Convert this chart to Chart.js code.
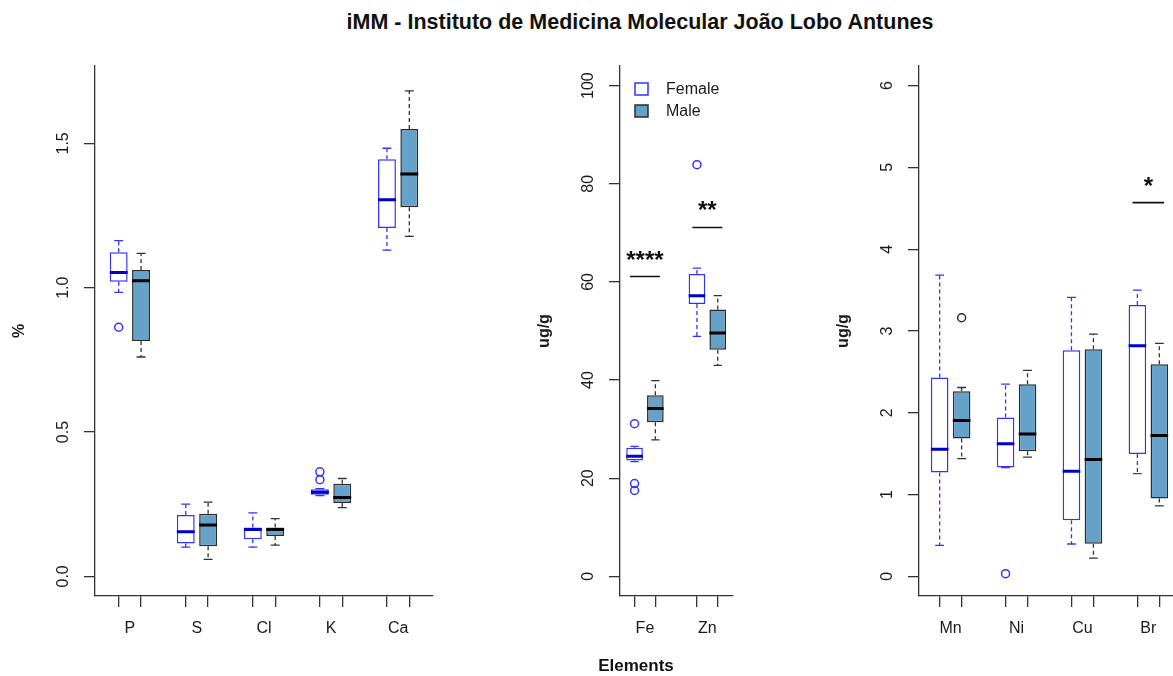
<!DOCTYPE html>
<html lang="pt">
<head>
<meta charset="utf-8">
<title>Elements by sex - iMM</title>
<script src="https://cdn.jsdelivr.net/npm/chart.js@4.4.1/dist/chart.umd.min.js"></script>
<style>
  html, body { margin: 0; padding: 0; background: #fff; overflow: hidden; }
  #page { position: relative; width: 1173px; height: 676px; overflow: hidden; }
  #page canvas { position: absolute; top: 0; }
  .label { position: absolute; font-family: "Liberation Sans", Arial, sans-serif; font-weight: bold; color: #111; white-space: nowrap; text-align: center; }
  #title { left: 340px; width: 600px; top: 9px; font-size: 21.5px; line-height: 26px; }
  #xtitle { left: 536px; width: 200px; top: 655px; font-size: 17px; line-height: 22px; }
</style>
</head>
<body>
<div id="page">
  <div id="title" class="label">iMM - Instituto de Medicina Molecular João Lobo Antunes</div>
  <canvas id="major" width="445" height="676" style="left:0px"></canvas>
  <canvas id="fezn" width="219" height="676" style="left:525px"></canvas>
  <canvas id="trace" width="368" height="676" style="left:824px"></canvas>
  <div id="xtitle" class="label">Elements</div>
</div>
<script>
// ---- data ----
// every box is [lower whisker, Q1, median, Q3, upper whisker]

// major elements, %
const majorElements = ['P', 'S', 'Cl', 'K', 'Ca'];
const majorFemale = [
  [0.984, 1.021, 1.053, 1.123, 1.163],
  [0.101, 0.114, 0.155, 0.213, 0.250],
  [0.101, 0.129, 0.162, 0.169, 0.220],
  [0.280, 0.283, 0.291, 0.302, 0.304],
  [1.130, 1.207, 1.305, 1.445, 1.483]
];
const majorMale = [
  [0.760, 0.815, 1.024, 1.061, 1.119],
  [0.059, 0.104, 0.178, 0.217, 0.257],
  [0.108, 0.140, 0.162, 0.169, 0.200],
  [0.238, 0.254, 0.273, 0.321, 0.339],
  [1.178, 1.279, 1.394, 1.550, 1.682]
];
const majorFemaleOut = [[0.863], [], [], [0.335, 0.362], []];
const majorMaleOut = [[], [], [], [], []];
const majorTicks = [0, 0.5, 1.0, 1.5];

// Fe and Zn, ug/g
const fezElements = ['Fe', 'Zn'];
const fezFemale = [
  [23.4, 23.6, 24.5, 26.2, 26.5],
  [48.9, 55.5, 57.2, 61.6, 62.8]
];
const fezMale = [
  [27.8, 31.4, 34.2, 36.9, 39.9],
  [43.0, 46.2, 49.6, 54.4, 57.2]
];
const fezFemaleOut = [[31.1, 18.9, 17.5], [83.9]];
const fezMaleOut = [[], []];
const fezTicks = [0, 20, 40, 60, 80, 100];
const fezSigAt = ['Fe', 'Zn'];
const fezSigLevel = [61.1, 71.1];
const fezSigText = ['****', '**'];

// trace elements, ug/g
const traceElements = ['Mn', 'Ni', 'Cu', 'Br'];
const traceFemale = [
  [0.379, 1.269, 1.554, 2.432, 3.684],
  [1.330, 1.330, 1.620, 1.942, 2.350],
  [0.396, 0.685, 1.285, 2.766, 3.411],
  [1.257, 1.497, 2.819, 3.317, 3.500]
];
const traceMale = [
  [1.440, 1.685, 1.905, 2.264, 2.309],
  [1.457, 1.530, 1.742, 2.350, 2.518],
  [0.224, 0.400, 1.428, 2.778, 2.962],
  [0.861, 0.951, 1.722, 2.595, 2.848]
];
const traceFemaleOut = [[], [0.033], [], []];
const traceMaleOut = [[3.162], [], [], []];
const traceTicks = [0, 1, 2, 3, 4, 5, 6];
const traceSigAt = ['Br'];
const traceSigLevel = [4.57];
const traceSigText = ['*'];

// ---- styling ----
const FONT = '"Liberation Sans", Arial, Helvetica, sans-serif';
const INK = '#1a1a1a';
const AXIS = '#333333';
const femaleStyle = { edge: '#3333ff', fill: '#ffffff', median: '#0000cc', whisker: '#3333ff' };
const maleStyle = { edge: '#2b2b2b', fill: '#64a2ca', median: '#000000', whisker: '#333333' };

Chart.defaults.font.family = FONT;
Chart.defaults.color = INK;

// boxes as floating bars, whiskers / caps / medians as broken line datasets
function boxSeries(label, stats, outliers, offset, st) {
  const pos = stats.map((s, i) => 3 * i + offset);
  const gap = p => ({ x: p, y: null });
  const whiskers = [], caps = [], medians = [], points = [];
  stats.forEach(([lo, q1, med, q3, hi], i) => {
    const p = pos[i];
    whiskers.push({ x: p, y: q3 }, { x: p, y: hi }, gap(p), { x: p, y: q1 }, { x: p, y: lo }, gap(p));
    caps.push({ x: p - 0.2, y: hi }, { x: p + 0.2, y: hi }, gap(p), { x: p - 0.2, y: lo }, { x: p + 0.2, y: lo }, gap(p));
    medians.push({ x: p - 0.4, y: med }, { x: p + 0.4, y: med }, gap(p));
    outliers[i].forEach(v => points.push({ x: p, y: v }));
  });
  return [
    { type: 'line', data: medians, borderColor: st.median, borderWidth: 3, pointRadius: 0, spanGaps: false, order: 0 },
    { type: 'scatter', data: points, pointStyle: 'circle', pointRadius: 4, pointBorderWidth: 1.5,
      pointBorderColor: st.edge, pointBackgroundColor: 'rgba(0,0,0,0)', order: 0 },
    { type: 'line', data: caps, borderColor: st.whisker, borderWidth: 1.3, pointRadius: 0, spanGaps: false, order: 1 },
    { type: 'line', data: whiskers, borderColor: st.whisker, borderWidth: 1.3, borderDash: [4, 3], pointRadius: 0, spanGaps: false, order: 1 },
    { type: 'bar', label, isBox: true, data: stats.map(([, q1, , q3], i) => ({ x: pos[i], y: [q1, q3] })),
      backgroundColor: st.fill, borderColor: st.edge, borderWidth: 1.5, borderSkipped: false,
      grouped: false, barPercentage: 0.8, categoryPercentage: 1, order: 2 }
  ];
}

function sigLine(groups, sigAt, sigLevel) {
  const data = [];
  sigAt.forEach((g, k) => {
    const c = 3 * groups.indexOf(g) + 1.5;
    data.push({ x: c - 0.72, y: sigLevel[k] }, { x: c + 0.72, y: sigLevel[k] }, { x: c, y: null });
  });
  return { type: 'line', data, borderColor: '#111', borderWidth: 1.6, pointRadius: 0, spanGaps: false, order: 0 };
}

// significance stars above the bars
const sigStars = {
  id: 'sigStars',
  afterDatasetsDraw(chart, args, opts) {
    if (!opts.text || !opts.text.length) return;
    const { ctx, scales: { x, y } } = chart;
    ctx.save();
    ctx.font = 'bold 24px ' + FONT;
    ctx.fillStyle = '#111';
    ctx.textAlign = 'center';
    ctx.textBaseline = 'alphabetic';
    opts.text.forEach((t, k) => {
      ctx.fillText(t, x.getPixelForValue(opts.at[k]), y.getPixelForValue(opts.level[k]) - 9);
    });
    ctx.restore();
  }
};

// R style legend inside the plot, top left
const boxLegend = {
  id: 'boxLegend',
  afterDraw(chart, args, opts) {
    if (!opts.show) return;
    const { ctx, chartArea } = chart;
    const boxes = chart.data.datasets.filter(d => d.isBox);
    ctx.save();
    ctx.font = '16px ' + FONT;
    ctx.textBaseline = 'middle';
    ctx.textAlign = 'left';
    boxes.forEach((d, k) => {
      const bx = chartArea.left + 15, by = chartArea.top + 17 + 22 * k;
      ctx.fillStyle = d.backgroundColor;
      ctx.fillRect(bx, by, 13, 12);
      ctx.strokeStyle = d.borderColor;
      ctx.lineWidth = 1.5;
      ctx.strokeRect(bx, by, 13, 12);
      ctx.fillStyle = INK;
      ctx.fillText(d.label, bx + 31, by + 6.5);
    });
    ctx.restore();
  }
};

const meas = document.createElement('canvas').getContext('2d');
meas.font = '16px ' + FONT;

function panel(id, p) {
  const canvas = document.getElementById(id);
  const [ylo, yhi] = p.ylim;
  const ypad = 0.04 * (yhi - ylo);
  const n = p.groups.length;
  const xlo = 0.5, xhi = 3 * n - 0.5;
  const xpad = 0.04 * (xhi - xlo);
  const xMin = xlo - xpad, xMax = xhi + xpad;
  const positions = p.groups.flatMap((g, i) => [3 * i + 1, 3 * i + 2]);
  const halfStep = 0.5 * p.areaWidth / (xMax - xMin);
  const widest = Math.max(...p.yTicks.map(v => meas.measureText(p.fmt(v)).width));
  const sig = p.sigAt || [];

  new Chart(canvas, {
    type: 'bar',
    data: {
      datasets: [
        ...boxSeries('Female', p.female, p.femaleOut, 1, femaleStyle),
        ...boxSeries('Male', p.male, p.maleOut, 2, maleStyle),
        sigLine(p.groups, sig, p.sigLevel || [])
      ]
    },
    options: {
      responsive: false,
      animation: false,
      events: [],
      layout: { padding: { top: 66, right: canvas.width - 95 - p.areaWidth, bottom: 0, left: 0 } },
      plugins: {
        legend: { display: false },
        tooltip: { enabled: false },
        boxLegend: { show: !!p.legend },
        sigStars: {
          text: p.sigText || [],
          at: sig.map(g => 3 * p.groups.indexOf(g) + 1.5),
          level: p.sigLevel || []
        }
      },
      scales: {
        x: {
          type: 'linear', min: xMin, max: xMax, offset: false,
          afterBuildTicks: s => { s.ticks = positions.map(v => ({ value: v })); },
          afterFit: s => { s.height = 80; },
          ticks: {
            autoSkip: false, minRotation: 0, maxRotation: 0, labelOffset: halfStep, padding: 12.4,
            font: { size: 16 }, color: INK,
            callback: (v, i) => (i % 2 === 0 ? p.groups[i / 2] : '')
          },
          grid: { offset: false, drawOnChartArea: false, drawTicks: true, tickLength: 11, color: AXIS, lineWidth: 1.3 },
          border: { display: true, color: AXIS, width: 1.3 }
        },
        y: {
          type: 'linear', min: ylo - ypad, max: yhi + ypad,
          afterBuildTicks: s => { s.ticks = p.yTicks.map(v => ({ value: v })); },
          afterFit: s => { s.width = 95; },
          ticks: {
            minRotation: 90, maxRotation: 90, crossAlign: 'center', padding: 31.5 - 11 - widest / 2,
            font: { size: 16 }, color: INK, callback: v => p.fmt(v)
          },
          grid: { drawOnChartArea: false, drawTicks: true, tickLength: 11, color: AXIS, lineWidth: 1.3 },
          border: { display: true, color: AXIS, width: 1.3 },
          title: { display: true, text: p.yTitle, color: INK, font: { size: 16, weight: 'bold' }, padding: { top: 9.5, bottom: 0 } }
        }
      }
    },
    plugins: [boxLegend, sigStars]
  });
}

panel('major', {
  groups: majorElements, female: majorFemale, male: majorMale,
  femaleOut: majorFemaleOut, maleOut: majorMaleOut,
  ylim: [0, 1.7], yTicks: majorTicks, fmt: v => v.toFixed(1), yTitle: '%',
  areaWidth: 338
});

panel('fezn', {
  groups: fezElements, female: fezFemale, male: fezMale,
  femaleOut: fezFemaleOut, maleOut: fezMaleOut,
  ylim: [0, 100], yTicks: fezTicks, fmt: v => String(v), yTitle: 'ug/g',
  sigAt: fezSigAt, sigLevel: fezSigLevel, sigText: fezSigText,
  areaWidth: 112.3, legend: true
});

panel('trace', {
  groups: traceElements, female: traceFemale, male: traceMale,
  femaleOut: traceFemaleOut, maleOut: traceMaleOut,
  ylim: [0, 6], yTicks: traceTicks, fmt: v => String(v), yTitle: 'ug/g',
  sigAt: traceSigAt, sigLevel: traceSigLevel, sigText: traceSigText,
  areaWidth: 261
});
</script>
</body>
</html>
